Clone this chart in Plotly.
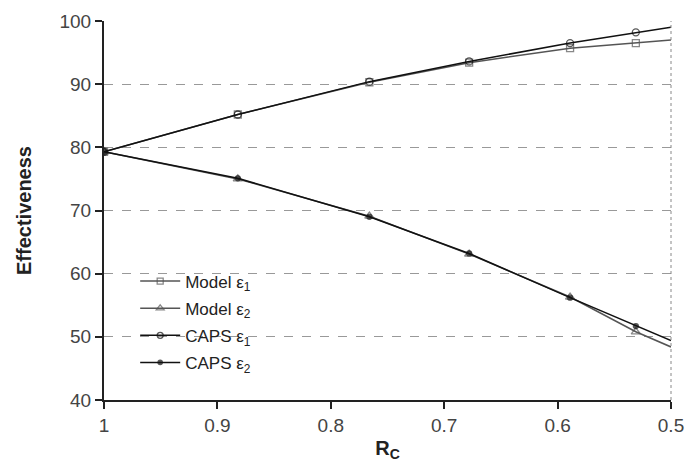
import plotly.graph_objects as go

# Capacity-ratio stations (R_C), shared by every series
rc = [1.0, 0.882, 0.766, 0.678, 0.589, 0.531, 0.5]

# Effectiveness (%) for each series
model_e1 = [79.3, 85.2, 90.3, 93.4, 95.7, 96.5, 97.0]
model_e2 = [79.3, 75.0, 69.1, 63.1, 56.3, 50.8, 48.4]
caps_e1 = [79.3, 85.2, 90.4, 93.6, 96.5, 98.2, 99.0]
caps_e2 = [79.3, 75.1, 69.0, 63.2, 56.2, 51.7, 49.4]

y_ticks = [40, 50, 60, 70, 80, 90, 100]
x_ticks = [1, 0.9, 0.8, 0.7, 0.6, 0.5]
x_tick_text = ["1", "0.9", "0.8", "0.7", "0.6", "0.5"]

FONT = "Liberation Sans, Arial, sans-serif"

# no marker drawn on the final (boundary) point
def sizes(n, s):
    return [s] * (n - 1) + [0]

fig = go.Figure()

series = [
    ("Model ε<sub>1</sub>", model_e1, "square-open", 7, "#555555"),
    ("Model ε<sub>2</sub>", model_e2, "triangle-up-open", 8, "#555555"),
    ("CAPS ε<sub>1</sub>", caps_e1, "circle-open", 7, "#111111"),
    ("CAPS ε<sub>2</sub>", caps_e2, "circle", 5, "#111111"),
]

for i, (name, vals, sym, ms, col) in enumerate(series):
    fig.add_trace(go.Scatter(
        x=rc, y=vals, name=name, mode="lines+markers", legendgroup=f"g{i}",
        line=dict(color=col, width=1.5),
        marker=dict(symbol=sym, size=sizes(len(rc), ms), color=col,
                    line=dict(color=col, width=1.3)),
    ))

# right-hand frame edge at R_C = 0.5
fig.add_shape(type="line", xref="paper", yref="paper", x0=1, x1=1, y0=0, y1=1,
              line=dict(color="#888888", width=1, dash="dot"))

fig.update_layout(
    width=685, height=470,
    margin=dict(l=104, r=14, t=21, b=70, autoexpand=False),
    paper_bgcolor="white", plot_bgcolor="white",
    font=dict(family=FONT, color="#333333"),
    showlegend=True,
    legend=dict(x=0.055, y=0.36, xanchor="left", yanchor="top",
                bgcolor="rgba(0,0,0,0)", font=dict(size=17, family=FONT, color="#222222"),
                tracegroupgap=2, itemwidth=40),
    xaxis=dict(
        range=[1.0, 0.5], autorange=False, automargin=False,
        tickvals=x_ticks, ticktext=x_tick_text,
        tickfont=dict(size=19, family=FONT, color="#444444"),
        showgrid=False, zeroline=False,
        showline=True, linecolor="#222222", linewidth=2,
        ticks="outside", ticklen=7, tickwidth=2, tickcolor="#222222",
        title=dict(text="<b>R<sub>C</sub></b>", font=dict(size=20, family=FONT, color="#222222"),
                   standoff=6),
    ),
    yaxis=dict(
        range=[40, 100], autorange=False, automargin=False,
        tickvals=y_ticks,
        tickfont=dict(size=19, family=FONT, color="#444444"),
        showgrid=True, gridcolor="#999999", gridwidth=1, griddash="dash",
        zeroline=False,
        showline=True, linecolor="#222222", linewidth=2,
        ticks="outside", ticklen=7, tickwidth=2, tickcolor="#222222",
        title=dict(text="<b>Effectiveness</b>", font=dict(size=20, family=FONT, color="#222222"),
                   standoff=22),
    ),
)

fig.write_html("out.html")
